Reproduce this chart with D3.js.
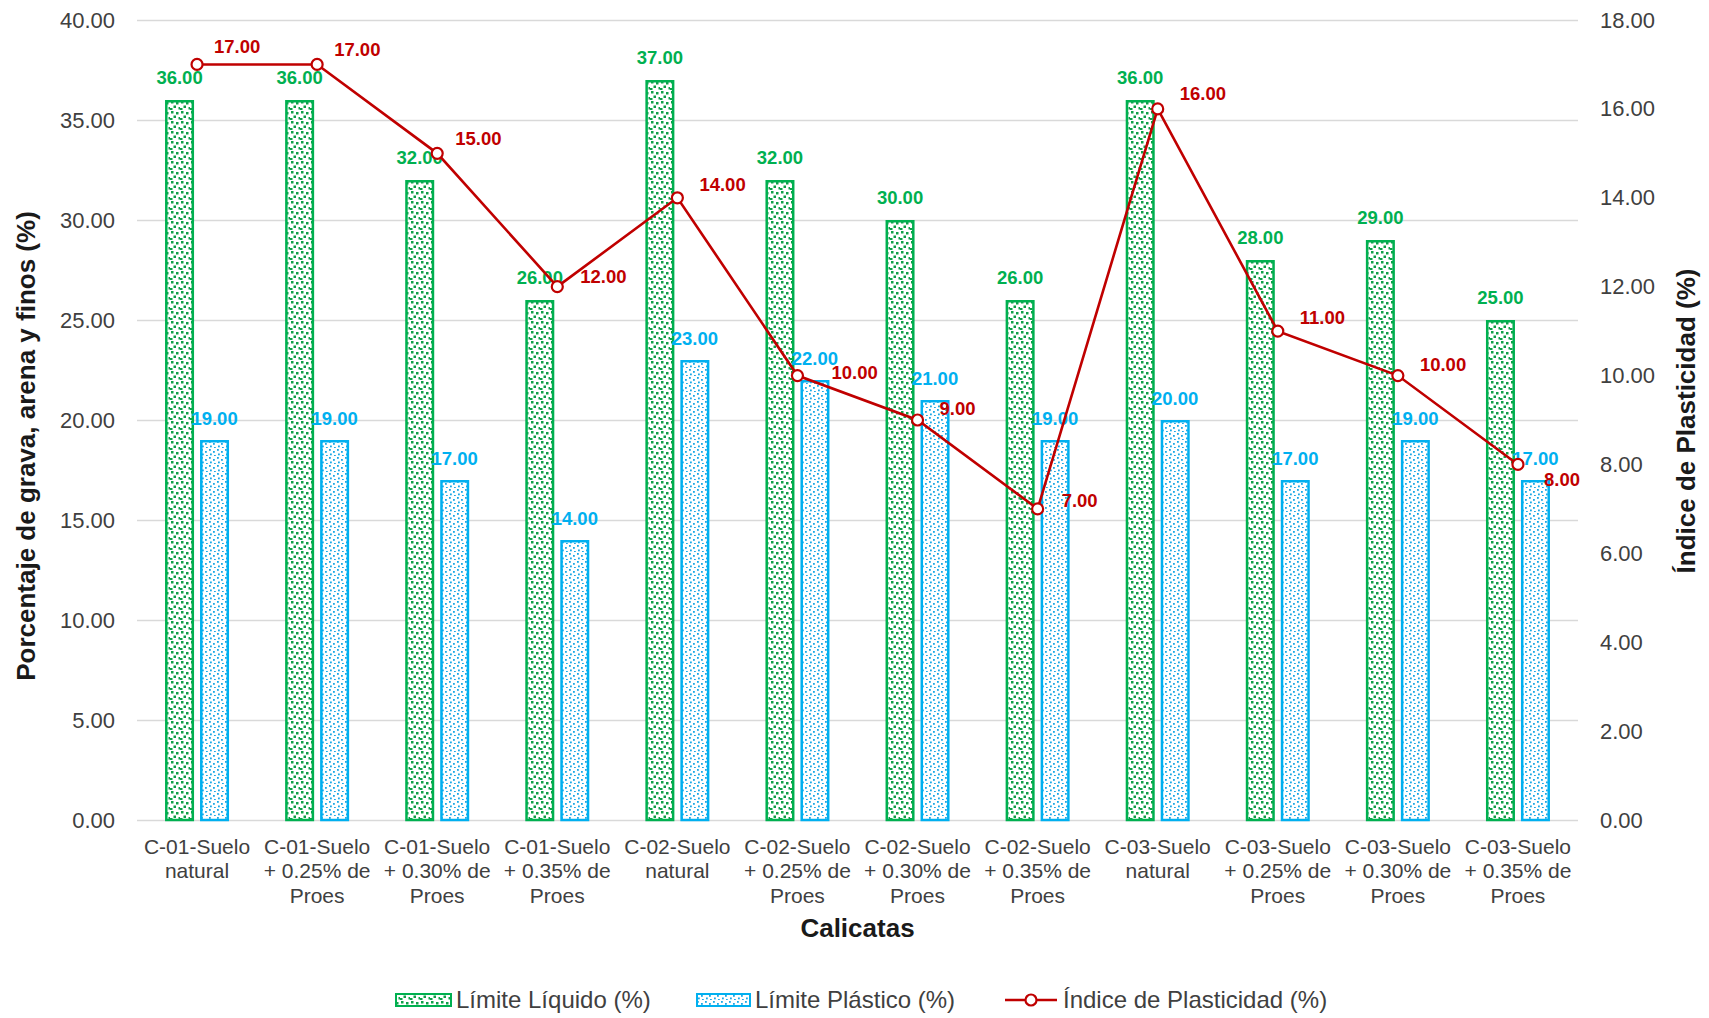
<!DOCTYPE html>
<html>
<head>
<meta charset="utf-8">
<script src="https://cdn.jsdelivr.net/npm/d3@7"></script>
<style>
  body { margin: 0; background: #fff; }
  svg { display: block; }
  text { font-family: Arial, "Liberation Sans", sans-serif; }
</style>
</head>
<body>
<svg id="chart" width="1709" height="1018"></svg>
<script>
// Calicatas (soil pits) and their treatments
const categories = [
  "C-01-Suelo natural",
  "C-01-Suelo + 0.25% de Proes",
  "C-01-Suelo + 0.30% de Proes",
  "C-01-Suelo + 0.35% de Proes",
  "C-02-Suelo natural",
  "C-02-Suelo + 0.25% de Proes",
  "C-02-Suelo + 0.30% de Proes",
  "C-02-Suelo + 0.35% de Proes",
  "C-03-Suelo natural",
  "C-03-Suelo + 0.25% de Proes",
  "C-03-Suelo + 0.30% de Proes",
  "C-03-Suelo + 0.35% de Proes"
];

// Atterberg limits (%)
const limiteLiquido     = [36, 36, 32, 26, 37, 32, 30, 26, 36, 28, 29, 25];
const limitePlastico    = [19, 19, 17, 14, 23, 22, 21, 19, 20, 17, 19, 17];
const indicePlasticidad = [17, 17, 15, 12, 14, 10,  9,  7, 16, 11, 10,  8];

// Axis ticks
const leftTicks  = [0, 5, 10, 15, 20, 25, 30, 35, 40];
const rightTicks = [0, 2, 4, 6, 8, 10, 12, 14, 16, 18];

const seriesNames = ["Límite Líquido (%)", "Límite Plástico (%)", "Índice de Plasticidad (%)"];

// ---- layout ----
const plot = { left: 137, right: 1578, top: 20, bottom: 820 };
const GREEN = "#00B050", BLUE = "#00B0F0", RED = "#C00000";
const GRID = "#d9d9d9", TICK_TXT = "#404040", TITLE_TXT = "#1a1a1a";
const fmt = d3.format(".2f");
// offsets of each plasticity-index label relative to its marker (px)
const idxLabelDx = [17, 17, 18, 23, 22, 34, 22, 24, 22, 22, 22, 26];
const idxLabelDy = [-11, -8, -8, -4, -7, 3, -5, -2, -9, -7, -5, 22];

const svg = d3.select("#chart");

// ---- fill patterns ----
const defs = svg.append("defs");
const gp = defs.append("pattern").attr("id", "dotsGreen")
  .attr("patternUnits", "userSpaceOnUse").attr("width", 10).attr("height", 10);
gp.append("rect").attr("width", 10).attr("height", 10).attr("fill", "#fff");
[[1,1],[6,2],[3.5,5.5],[8.5,7],[0,8]].forEach(([px, py]) =>
  gp.append("rect").attr("x", px).attr("y", py).attr("width", 2.5).attr("height", 2.5).attr("fill", "#0fa048"));

const bp = defs.append("pattern").attr("id", "dotsBlue")
  .attr("patternUnits", "userSpaceOnUse").attr("width", 8).attr("height", 8);
bp.append("rect").attr("width", 8).attr("height", 8).attr("fill", "#fff");
[[1,1],[5,3],[2,5.5],[6,7]].forEach(([px, py]) =>
  bp.append("rect").attr("x", px).attr("y", py).attr("width", 1.8).attr("height", 1.8).attr("fill", "#1aa8e6"));

// ---- scales ----
const x = d3.scaleBand().domain(categories).range([plot.left, plot.right]);
const sub = d3.scaleBand().domain(["ll", "lp"]).range([-32, 32]).paddingInner(0.171);
const yL = d3.scaleLinear().domain([0, 40]).range([plot.bottom, plot.top]);
const yR = d3.scaleLinear().domain([0, 18]).range([plot.bottom, plot.top]);
const cx = c => x(c) + x.bandwidth() / 2;

// ---- gridlines ----
const grid = svg.append("g").attr("transform", `translate(${plot.left},0)`)
  .call(d3.axisLeft(yL).tickValues(leftTicks).tickSize(-(plot.right - plot.left)).tickFormat(""));
grid.select(".domain").remove();
grid.selectAll("line").attr("stroke", GRID).attr("stroke-width", 1.3);

// ---- axis tick labels ----
const axL = svg.append("g").attr("transform", `translate(${plot.left},0)`)
  .call(d3.axisLeft(yL).tickValues(leftTicks).tickSize(0).tickPadding(22).tickFormat(fmt));
const axR = svg.append("g").attr("transform", `translate(${plot.right},0)`)
  .call(d3.axisRight(yR).tickValues(rightTicks).tickSize(0).tickPadding(22).tickFormat(fmt));
[axL, axR].forEach(a => {
  a.select(".domain").remove();
  a.selectAll("text").attr("font-size", 22).attr("fill", TICK_TXT)
    .attr("font-family", "Arial, 'Liberation Sans', sans-serif");
});

// ---- category labels (wrapped) ----
const catG = svg.append("g");
categories.forEach(c => {
  const t = catG.append("text").attr("x", cx(c)).attr("y", 854)
    .attr("text-anchor", "middle").attr("font-size", 21).attr("fill", TICK_TXT);
  const words = c.split(" ");
  let lines = [], cur = [];
  const probe = svg.append("text").attr("font-size", 21);
  words.forEach(w => {
    const tryLine = cur.concat([w]).join(" ");
    probe.text(tryLine);
    if (cur.length && probe.node().getComputedTextLength() > 116) {
      lines.push(cur.join(" ")); cur = [w];
    } else cur.push(w);
  });
  lines.push(cur.join(" "));
  probe.remove();
  lines.forEach((ln, i) => t.append("tspan").attr("x", cx(c)).attr("dy", i ? 24.4 : 0).text(ln));
});

// ---- bars ----
const SW = 2.5;
const barsG = svg.append("g");
categories.forEach((c, i) => {
  [["ll", limiteLiquido[i], "url(#dotsGreen)", GREEN],
   ["lp", limitePlastico[i], "url(#dotsBlue)", BLUE]].forEach(([k, v, fill, stroke]) => {
    const bx = cx(c) + sub(k);
    barsG.append("rect")
      .attr("x", bx + SW / 2).attr("y", yL(v) + SW / 2)
      .attr("width", sub.bandwidth() - SW).attr("height", yL(0) - yL(v) - SW / 2)
      .attr("fill", fill).attr("stroke", stroke).attr("stroke-width", SW);
  });
});

// ---- bar value labels ----
const lblG = svg.append("g").attr("font-weight", "bold").attr("font-size", 18.5).attr("text-anchor", "middle");
categories.forEach((c, i) => {
  lblG.append("text").attr("x", cx(c) + sub("ll") + sub.bandwidth() / 2)
    .attr("y", yL(limiteLiquido[i]) - 16).attr("fill", GREEN).text(fmt(limiteLiquido[i]));
  lblG.append("text").attr("x", cx(c) + sub("lp") + sub.bandwidth() / 2)
    .attr("y", yL(limitePlastico[i]) - 15).attr("fill", BLUE).text(fmt(limitePlastico[i]));
});

// ---- plasticity index line ----
const line = d3.line().x((d, i) => cx(categories[i])).y(d => yR(d));
svg.append("path").datum(indicePlasticidad).attr("d", line)
  .attr("fill", "none").attr("stroke", RED).attr("stroke-width", 2.6);
svg.append("g").selectAll("circle").data(indicePlasticidad).join("circle")
  .attr("cx", (d, i) => cx(categories[i])).attr("cy", d => yR(d)).attr("r", 5.5)
  .attr("fill", "#fff").attr("stroke", RED).attr("stroke-width", 2.2);
svg.append("g").attr("font-weight", "bold").attr("font-size", 18.5).attr("fill", RED)
  .selectAll("text").data(indicePlasticidad).join("text")
  .attr("x", (d, i) => cx(categories[i]) + idxLabelDx[i])
  .attr("y", (d, i) => yR(d) + idxLabelDy[i])
  .text(d => fmt(d));

// ---- axis titles ----
svg.append("text").attr("transform", "translate(35,446) rotate(-90)")
  .attr("text-anchor", "middle").attr("font-weight", "bold").attr("font-size", 26)
  .attr("fill", TITLE_TXT).text("Porcentaje de grava, arena y finos (%)");
svg.append("text").attr("transform", "translate(1695,421) rotate(-90)")
  .attr("text-anchor", "middle").attr("font-weight", "bold").attr("font-size", 26)
  .attr("fill", TITLE_TXT).text("Índice de Plasticidad (%)");
svg.append("text").attr("x", (plot.left + plot.right) / 2).attr("y", 937)
  .attr("text-anchor", "middle").attr("font-weight", "bold").attr("font-size", 26)
  .attr("fill", TITLE_TXT).text("Calicatas");

// ---- legend ----
const leg = svg.append("g");
leg.append("rect").attr("x", 396).attr("y", 994).attr("width", 55).attr("height", 12)
  .attr("fill", "url(#dotsGreen)").attr("stroke", GREEN).attr("stroke-width", 2);
leg.append("text").attr("x", 456).attr("y", 1008).attr("font-size", 24).attr("fill", TICK_TXT).text(seriesNames[0]);
leg.append("rect").attr("x", 697).attr("y", 994).attr("width", 53).attr("height", 12)
  .attr("fill", "url(#dotsBlue)").attr("stroke", BLUE).attr("stroke-width", 2);
leg.append("text").attr("x", 755).attr("y", 1008).attr("font-size", 24).attr("fill", TICK_TXT).text(seriesNames[1]);
leg.append("line").attr("x1", 1005).attr("x2", 1057).attr("y1", 1000).attr("y2", 1000)
  .attr("stroke", RED).attr("stroke-width", 2.6);
leg.append("circle").attr("cx", 1031).attr("cy", 1000).attr("r", 5.5)
  .attr("fill", "#fff").attr("stroke", RED).attr("stroke-width", 2.2);
leg.append("text").attr("x", 1063).attr("y", 1008).attr("font-size", 24).attr("fill", TICK_TXT).text(seriesNames[2]);
</script>
</body>
</html>
